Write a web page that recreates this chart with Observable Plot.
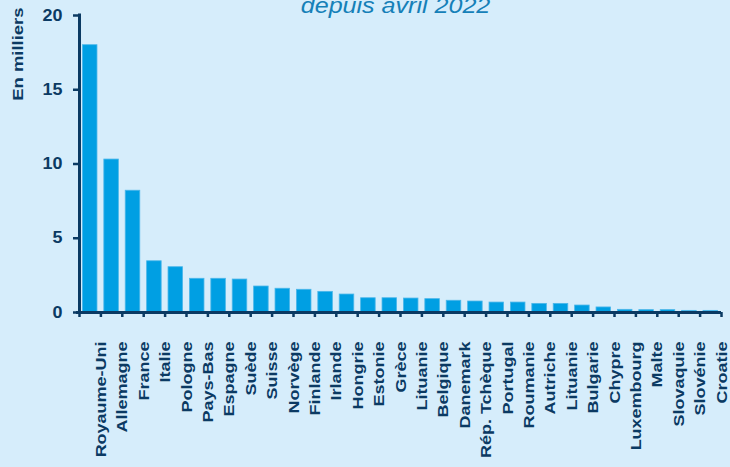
<!DOCTYPE html>
<html>
<head>
<meta charset="utf-8">
<script src="https://cdn.jsdelivr.net/npm/d3@7"></script>
<script src="https://cdn.jsdelivr.net/npm/@observablehq/plot@0.6"></script>
<style>
  html, body { margin: 0; padding: 0; background: #d6edfb; overflow: hidden; }
  #chart { width: 730px; height: 467px; }
</style>
</head>
<body>
<div id="chart"></div>
<script>
// ---- data ----
const countries = ["Royaume-Uni", "Allemagne", "France", "Italie", "Pologne", "Pays-Bas", "Espagne", "Suède", "Suisse", "Norvège", "Finlande", "Irlande", "Hongrie", "Estonie", "Grèce", "Lituanie", "Belgique", "Danemark", "Rép. Tchèque", "Portugal", "Roumanie", "Autriche", "Lituanie", "Bulgarie", "Chypre", "Luxembourg", "Malte", "Slovaquie", "Slovénie", "Croatie"];
const values = [18.0, 10.3, 8.2, 3.45, 3.05, 2.27, 2.27, 2.22, 1.75, 1.6, 1.53, 1.39, 1.21, 0.96, 0.96, 0.94, 0.9, 0.79, 0.74, 0.67, 0.67, 0.58, 0.58, 0.47, 0.34, 0.18, 0.16, 0.16, 0.11, 0.11];
const yTicks = [0, 5, 10, 15, 20];
const titleText = "depuis avril 2022";
const yTitle = "En milliers";

// ---- layout ----
const W = 730, H = 467;
const mL = 79, mR = 9, mT = 15, mB = 155;
const navy = "#0b3a63";
const barBlue = "#009fe3";
const idx = d3.range(countries.length);
const data = idx.map(i => ({i, country: countries[i], value: values[i]}));
const step = (W - mL - mR) / countries.length;

const chart = Plot.plot({
  width: W,
  height: H,
  marginLeft: mL,
  marginRight: mR,
  marginTop: mT,
  marginBottom: mB,
  style: {background: "transparent", color: navy, fontFamily: "'Liberation Sans', Arial, sans-serif", overflow: "visible"},
  x: {type: "band", domain: idx, paddingInner: 0.32, paddingOuter: 0.16, round: false, axis: null, label: null},
  y: {domain: [0, 20], axis: null, label: null},
  marks: [
    Plot.barY(data, {x: "i", y: "value", fill: barBlue, stroke: "#4cb7ea", strokeWidth: 0.8}),
    // y axis line
    Plot.ruleX([0], {x: d => d, dx: -step / 2, y1: 0, y2: 20.1, stroke: navy, strokeWidth: 3}),
    // x axis line
    Plot.ruleY([0], {stroke: navy, strokeWidth: 3, insetLeft: -3}),
    // boundary ticks on x axis
    Plot.axisX(idx, {tickSize: 5, dx: -step / 2, tickFormat: () => "", strokeWidth: 2.5, stroke: navy, label: null}),
    Plot.axisX([idx[idx.length - 1]], {tickSize: 5, dx: step / 2, tickFormat: () => "", strokeWidth: 2.5, stroke: navy, label: null}),
    // x labels
    Plot.axisX(idx, {tickSize: 0, tickPadding: 29, tickRotate: -90, textAnchor: "end",
      tickFormat: i => countries[i], fontSize: 15, fontWeight: "bold", fill: navy, dx: 11, label: null}),
    // y axis
    Plot.axisY(yTicks, {tickSize: 6, tickPadding: 11, fontSize: 16, fontWeight: "bold", fill: navy, stroke: navy, strokeWidth: 2.5, label: null}),
    // y title
    Plot.text([yTitle], {frameAnchor: "top-left", text: d => d, rotate: -90, textAnchor: "end", lineAnchor: "middle",
      dx: -61.5, dy: -8, fontSize: 15, fontWeight: "bold", fill: navy}),
    // title (cut at the top, as in the reference)
    Plot.text([titleText], {frameAnchor: "top-left", text: d => d, textAnchor: "middle", lineAnchor: "bottom",
      dx: 395 - mL, dy: 12.5 - mT, fontSize: 22, fontStyle: "italic", fill: "#1580b8"})
  ]
});
document.getElementById("chart").appendChild(chart);

// horizontal stretch of the original lettering (along the reading direction)
function stretchEl(t, s) {
  const tr = t.getAttribute("transform");
  if (tr) {
    t.setAttribute("transform", tr + ` scale(${s},1)`);
  } else {
    const x = +(t.getAttribute("x") || 0), y = +(t.getAttribute("y") || 0);
    t.removeAttribute("x"); t.removeAttribute("y");
    t.setAttribute("transform", `translate(${x},${y}) scale(${s},1)`);
  }
}
const tickStrings = yTicks.map(String);
chart.querySelectorAll("text").forEach(t => {
  const s = t.textContent;
  if (!s) return;
  if (s === yTitle) stretchEl(t, 1.23);
  else if (s === titleText) stretchEl(t, 1.14);
  else if (countries.includes(s)) stretchEl(t, 1.2);
  else if (tickStrings.includes(s)) stretchEl(t, 1.12);
});
</script>
</body>
</html>
